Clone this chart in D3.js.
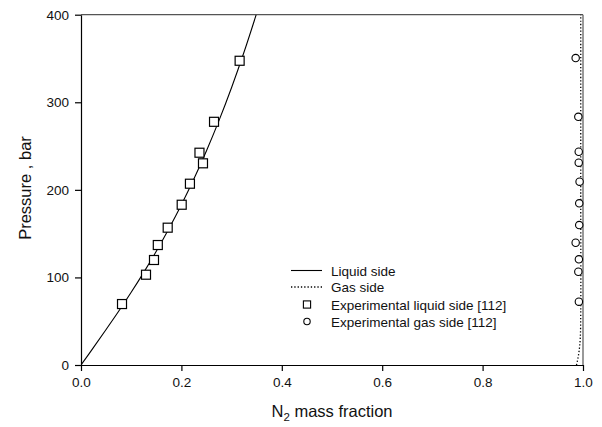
<!DOCTYPE html>
<html>
<head>
<meta charset="utf-8">
<script src="https://cdn.jsdelivr.net/npm/d3@7/dist/d3.min.js"></script>
<style>
  html, body { margin: 0; padding: 0; background: #fff; }
  svg { display: block; font-family: "Liberation Sans", Arial, sans-serif; }
</style>
</head>
<body>
<svg id="chart" width="602" height="427"></svg>
<script>
// ---- data ----
const liquidCurveX = [0, 0.025, 0.05, 0.075, 0.1, 0.125, 0.15, 0.175, 0.2, 0.225, 0.25, 0.275, 0.3, 0.325, 0.349];
const liquidCurveP = [0, 20.1, 40.5, 61.3, 83.0, 105.8, 129.8, 155.5, 183.0, 212.6, 244.7, 279.3, 316.9, 357.7, 400];

const gasCurveX = [0.987, 0.989, 0.992, 0.9945, 0.9955, 0.9955, 0.9955];
const gasCurveP = [0, 5, 15, 30, 60, 200, 400];

const expLiquidX = [0.316, 0.265, 0.236, 0.243, 0.217, 0.2006, 0.1727, 0.153, 0.1454, 0.1295, 0.0817];
const expLiquidP = [347.4, 277.7, 242.4, 230.3, 207, 183, 156.8, 137, 119.9, 103.1, 69.6];

const expGasX = [0.9854, 0.9907, 0.9915, 0.9915, 0.9932, 0.9925, 0.9925, 0.9854, 0.9918, 0.9907, 0.9918];
const expGasP = [350.5, 283.4, 243.5, 231, 209.3, 184.6, 159.8, 139.6, 120.7, 106.5, 72.3];

const xTicks = [0, 0.2, 0.4, 0.6, 0.8, 1.0];
const yTicks = [0, 100, 200, 300, 400];
const legendLabels = ["Liquid side", "Gas side", "Experimental liquid side [112]", "Experimental gas side [112]"];

(function () {
// ---- layout ----
const svg = d3.select("#chart");
const mLeft = 81, mRight = 583, mTop = 14.7, mBottom = 365;
const x = d3.scaleLinear().domain([0, 1]).range([mLeft, mRight]);
const y = d3.scaleLinear().domain([0, 400]).range([mBottom, mTop]);

// frame top/right
svg.append("line").attr("x1", mLeft).attr("x2", mRight).attr("y1", mTop).attr("y2", mTop)
  .attr("stroke", "#555").attr("stroke-width", 1.2);
svg.append("line").attr("x1", mRight).attr("x2", mRight).attr("y1", mTop).attr("y2", mBottom)
  .attr("stroke", "#555").attr("stroke-width", 1.2);

// axes
const xAxis = d3.axisBottom(x).tickValues(xTicks).tickFormat(d3.format(".1f")).tickSizeInner(6).tickSizeOuter(0).tickPadding(6);
const yAxis = d3.axisLeft(y).tickValues(yTicks).tickFormat(d3.format("d")).tickSizeInner(6).tickSizeOuter(0).tickPadding(6);

const gx = svg.append("g").attr("transform", `translate(0,${mBottom})`).call(xAxis);
const gy = svg.append("g").attr("transform", `translate(${mLeft},0)`).call(yAxis);
[gx, gy].forEach(g => {
  g.select(".domain").attr("stroke", "#000").attr("stroke-width", 1.2);
  g.selectAll(".tick line").attr("stroke", "#000").attr("stroke-width", 1.2);
  g.selectAll(".tick text").attr("font-size", 13.5).attr("fill", "#111")
    .attr("font-family", "Liberation Sans, Arial, sans-serif");
});

// axis titles
svg.append("text")
  .attr("transform", `translate(31,188) rotate(-90)`)
  .attr("text-anchor", "middle").attr("font-size", 16.5).attr("fill", "#111")
  .text("Pressure , bar");

const xt = svg.append("text").attr("x", 332).attr("y", 417)
  .attr("text-anchor", "middle").attr("font-size", 16.5).attr("fill", "#111");
xt.append("tspan").text("N");
xt.append("tspan").attr("font-size", 11.5).attr("dy", 4).text("2");
xt.append("tspan").attr("dy", -4).text(" mass fraction");

// clip
svg.append("clipPath").attr("id", "clip").append("rect")
  .attr("x", mLeft).attr("y", mTop).attr("width", mRight - mLeft).attr("height", mBottom - mTop);

// liquid curve
svg.append("path")
  .attr("d", d3.line().curve(d3.curveCatmullRom)(liquidCurveX.map((d, i) => [x(d), y(liquidCurveP[i])])))
  .attr("fill", "none").attr("stroke", "#000").attr("stroke-width", 1.1)
  .attr("clip-path", "url(#clip)");

// gas curve
svg.append("path")
  .attr("d", d3.line().curve(d3.curveCatmullRom)(gasCurveX.map((d, i) => [x(d), y(gasCurveP[i])])))
  .attr("fill", "none").attr("stroke", "#000").attr("stroke-width", 1.3)
  .attr("stroke-dasharray", "1.3,2");

// experimental liquid squares
const sq = 9;
svg.append("g").selectAll("rect").data(expLiquidX).join("rect")
  .attr("x", (d) => x(d) - sq / 2)
  .attr("y", (d, i) => y(expLiquidP[i]) - sq / 2)
  .attr("width", sq).attr("height", sq)
  .attr("fill", "#fff").attr("stroke", "#000").attr("stroke-width", 1.2);

// experimental gas circles
svg.append("g").selectAll("circle").data(expGasX).join("circle")
  .attr("cx", (d) => x(d))
  .attr("cy", (d, i) => y(expGasP[i]))
  .attr("r", 3.7)
  .attr("fill", "#fff").attr("stroke", "#000").attr("stroke-width", 1.1);

// legend
const legY = [270.5, 287, 304.5, 321.5];
const lg = svg.append("g");
lg.append("line").attr("x1", 291).attr("x2", 322).attr("y1", legY[0]).attr("y2", legY[0])
  .attr("stroke", "#000").attr("stroke-width", 1.1);
lg.append("line").attr("x1", 291).attr("x2", 322).attr("y1", legY[1]).attr("y2", legY[1])
  .attr("stroke", "#000").attr("stroke-width", 1.3).attr("stroke-dasharray", "1.3,2");
lg.append("rect").attr("x", 307 - 3.6).attr("y", legY[2] - 3.6).attr("width", 7.2).attr("height", 7.2)
  .attr("fill", "#fff").attr("stroke", "#000").attr("stroke-width", 1.1);
lg.append("circle").attr("cx", 307).attr("cy", legY[3]).attr("r", 3.2)
  .attr("fill", "#fff").attr("stroke", "#000").attr("stroke-width", 1.1);
lg.selectAll("text").data(legendLabels).join("text")
  .attr("x", 331).attr("y", (d, i) => legY[i] + 5)
  .attr("font-size", 13.5).attr("fill", "#111")
  .text(d => d);
})();
</script>
</body>
</html>
